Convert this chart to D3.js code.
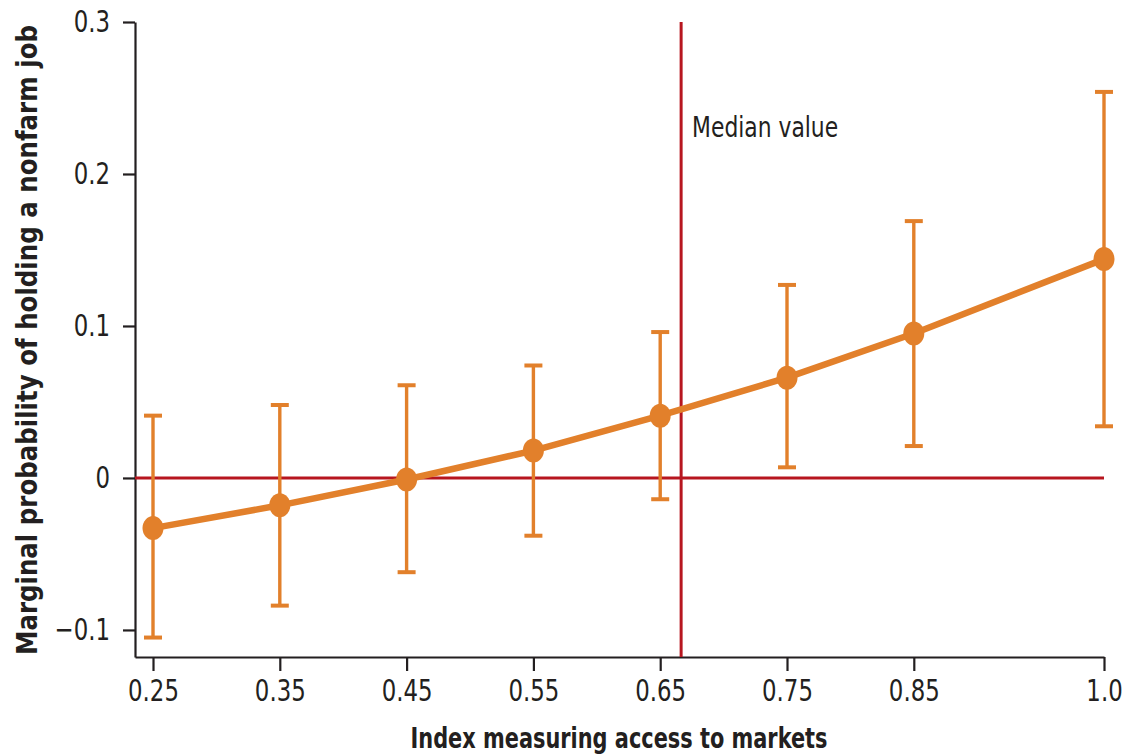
<!DOCTYPE html>
<html lang="en">
<head>
  <meta charset="UTF-8">
  <title>Access to markets</title>
  <script src="https://d3js.org/d3.v7.min.js"></script>
  <style>
    body { margin: 0; background: #fff; }
    svg text { font-family: "Liberation Sans Narrow", "DejaVu Sans Condensed", sans-serif; fill: #231f20; }
  </style>
</head>
<body>
  <div id="chart"></div>
  <script>
    // values
    const accessIndex = [0.25, 0.35, 0.45, 0.55, 0.65, 0.75, 0.85, 1.0];
    const marginalProb = [-0.033, -0.018, -0.001, 0.018, 0.041, 0.066, 0.095, 0.144];
    const upperBound = [0.041, 0.048, 0.061, 0.074, 0.096, 0.127, 0.169, 0.254];
    const lowerBound = [-0.105, -0.084, -0.062, -0.038, -0.014, 0.007, 0.021, 0.034];
    const xTicks = [0.25, 0.35, 0.45, 0.55, 0.65, 0.75, 0.85, 1.0];
    const yTicks = [-0.1, 0, 0.1, 0.2, 0.3];
    const medianValue = 0.6665;

    const width = 1125, height = 755;
    const orange = "#e2802b", red = "#b7161f", ink = "#231f20";
    const squeeze = 0.82; // condensed look for tick labels

    const svg = d3.select("#chart")
      .append("svg")
      .attr("width", width)
      .attr("height", height);

    const x = d3.scaleLinear().domain([0.2358, 1.0]).range([135, 1104]);
    const y = d3.scaleLinear().domain([-0.1178, 0.3]).range([657, 22]);

    const points = accessIndex.map((v, i) => ({
      x: v, y: marginalProb[i], hi: upperBound[i], lo: lowerBound[i]
    }));

    // axes
    const xAxis = d3.axisBottom(x)
      .tickValues(xTicks)
      .tickSize(14)
      .tickSizeOuter(0)
      .tickPadding(8)
      .tickFormat(d => d === 1 ? "1.0" : d3.format(".2f")(d));

    const yAxis = d3.axisLeft(y)
      .tickValues(yTicks)
      .tickSize(12)
      .tickSizeOuter(0)
      .tickPadding(0)
      .tickFormat(d => d === 0 ? "0" : (d < 0 ? "\u2212" : "") + Math.abs(d).toFixed(1));

    const gx = svg.append("g")
      .attr("transform", `translate(0,${y.range()[0]})`)
      .call(xAxis);
    const gy = svg.append("g")
      .attr("transform", `translate(${x.range()[0]},0)`)
      .call(yAxis);

    [gx, gy].forEach(g => {
      g.selectAll("path, line").attr("stroke", ink).attr("stroke-width", 2.2);
      g.selectAll("text").attr("font-size", 31).attr("fill", ink);
    });
    gx.selectAll("text").attr("transform", `scale(${squeeze},1)`);
    gy.selectAll("text")
      .attr("x", -25 / squeeze)
      .attr("transform", `scale(${squeeze},1)`);

    // reference lines
    svg.append("line")
      .attr("x1", x.range()[0]).attr("x2", x(1.0))
      .attr("y1", y(0)).attr("y2", y(0))
      .attr("stroke", red).attr("stroke-width", 3);

    svg.append("line")
      .attr("x1", x(medianValue)).attr("x2", x(medianValue))
      .attr("y1", y(0.3)).attr("y2", y.range()[0])
      .attr("stroke", red).attr("stroke-width", 3);

    svg.append("text")
      .attr("x", x(medianValue) + 11)
      .attr("y", 137)
      .attr("font-size", 28)
      .attr("textLength", 146)
      .attr("lengthAdjust", "spacingAndGlyphs")
      .text("Median value");

    // error bars
    const bars = svg.append("g").attr("stroke", orange);
    bars.selectAll(".stem")
      .data(points)
      .join("line")
      .attr("x1", d => x(d.x)).attr("x2", d => x(d.x))
      .attr("y1", d => y(d.hi)).attr("y2", d => y(d.lo))
      .attr("stroke-width", 3.4);
    bars.selectAll(".cap")
      .data(points.flatMap(d => [{ x: d.x, v: d.hi }, { x: d.x, v: d.lo }]))
      .join("line")
      .attr("x1", d => x(d.x) - 9).attr("x2", d => x(d.x) + 9)
      .attr("y1", d => y(d.v)).attr("y2", d => y(d.v))
      .attr("stroke-width", 4);

    // line + markers
    const line = d3.line().x(d => x(d.x)).y(d => y(d.y));
    svg.append("path")
      .datum(points)
      .attr("d", line)
      .attr("fill", "none")
      .attr("stroke", orange)
      .attr("stroke-width", 6.5);

    svg.selectAll(".dot")
      .data(points)
      .join("ellipse")
      .attr("cx", d => x(d.x))
      .attr("cy", d => y(d.y))
      .attr("rx", 10.5)
      .attr("ry", 12)
      .attr("fill", orange);

    // axis titles
    svg.append("text")
      .attr("x", 619)
      .attr("y", 748)
      .attr("text-anchor", "middle")
      .attr("font-size", 29)
      .attr("font-weight", "bold")
      .attr("textLength", 417)
      .attr("lengthAdjust", "spacingAndGlyphs")
      .text("Index measuring access to markets");

    svg.append("text")
      .attr("transform", "translate(37,340) rotate(-90)")
      .attr("text-anchor", "middle")
      .attr("font-size", 28)
      .attr("font-weight", "bold")
      .attr("textLength", 630)
      .attr("lengthAdjust", "spacingAndGlyphs")
      .text("Marginal probability of holding a nonfarm job");
  </script>
</body>
</html>
